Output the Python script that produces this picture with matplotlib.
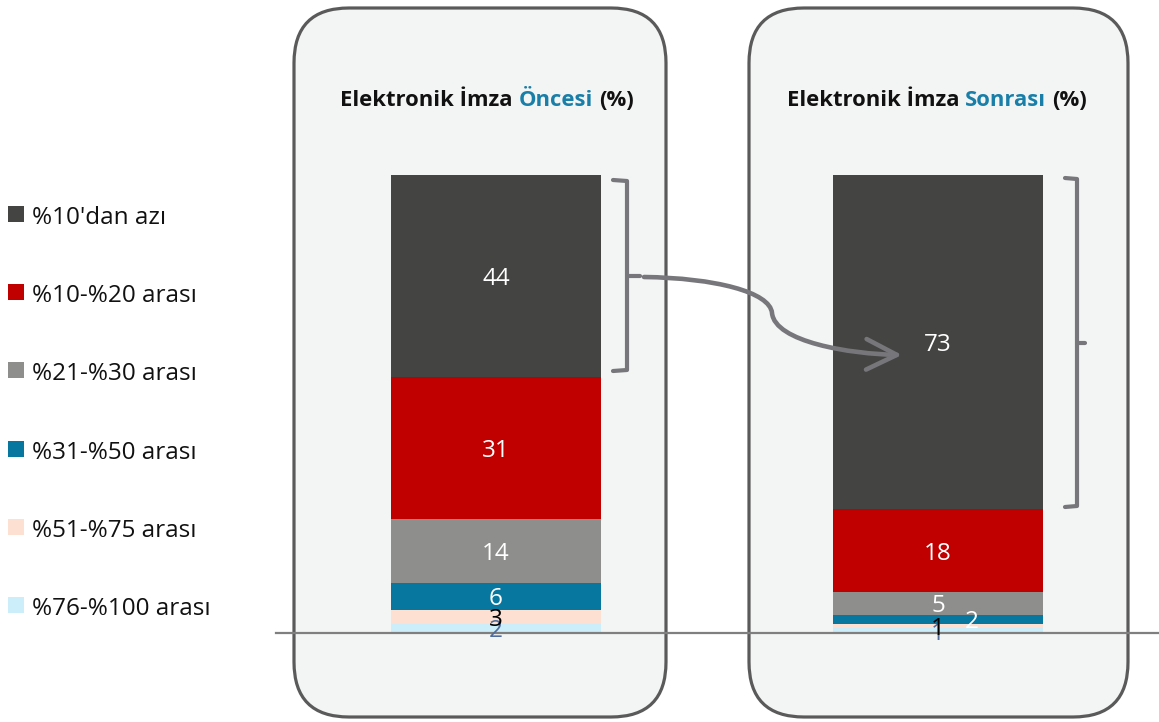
import matplotlib
matplotlib.use("Agg")
import matplotlib.pyplot as plt
from matplotlib.patches import FancyBboxPatch, FancyArrowPatch, Rectangle
from matplotlib.path import Path
import numpy as np

# ---------------- data ----------------
categories = ["Öncesi", "Sonrası"]
series_names = ["%10'dan azı", "%10-%20 arası", "%21-%30 arası",
                "%31-%50 arası", "%51-%75 arası", "%76-%100 arası"]
before = [44, 31, 14, 6, 3, 2]
after = [73, 18, 5, 2, 1, 1]
series_colors = ["#444442", "#C00000", "#8E8E8C", "#07779F", "#FDE0D2", "#CBEEFA"]
label_colors = ["white", "white", "white", "white", "black", "#4F6C9C"]

FONT = "Open Sans"
W, H = 1159, 722
fig = plt.figure(figsize=(W / 100, H / 100), dpi=100)
fig.patch.set_facecolor("white")

# background axes in pixel coordinates
bg = fig.add_axes([0, 0, 1, 1], zorder=1)
bg.set_xlim(0, W)
bg.set_ylim(H, 0)
bg.axis("off")

# panels
for x0, x1 in [(294, 666), (749, 1128)]:
    bg.add_patch(FancyBboxPatch((x0, 8), x1 - x0, 709,
                                boxstyle="round,pad=0,rounding_size=55",
                                facecolor="#F3F5F4", edgecolor="#5A5A5A",
                                linewidth=2.3, zorder=1))

# bar axes: x categories 0/1, y in percent
ax = fig.add_axes([0, 0, 1, 1], zorder=2)
ax.patch.set_alpha(0)
px_per_cat = 442.0
px_per_unit = 4.58
ax.set_xlim(-496 / px_per_cat, (W - 496) / px_per_cat)
ax.set_ylim(-89 / px_per_unit, (H - 89) / px_per_unit)
ax.axis("off")

# overlay axes (pixel coordinates) for brackets/arrow on top of bars
ov = fig.add_axes([0, 0, 1, 1], zorder=3)
ov.patch.set_alpha(0)
ov.set_xlim(0, W)
ov.set_ylim(H, 0)
ov.axis("off")

bar_w = 210 / px_per_cat
xs = np.arange(len(categories))
data = np.array([before, after])  # shape (cats, series)
bottoms = np.zeros(len(categories))
for i in range(len(series_names) - 1, -1, -1):
    vals = data[:, i]
    ax.bar(xs, vals, bottom=bottoms, width=bar_w, color=series_colors[i],
           edgecolor="none", zorder=2)
    for j, x in enumerate(xs):
        lx = x
        if j == 1 and i == 3:
            lx = x + 34 / px_per_cat
        ax.text(lx, bottoms[j] + vals[j] / 2, str(vals[j]), ha="center",
                va="center_baseline", fontsize=17.5, color=label_colors[i],
                family=FONT, zorder=4)
    bottoms = bottoms + vals

ax.axhline(0, xmin=276 / W, xmax=1.0, color="#7F7F7F", lw=1.6, zorder=3)

# legend
legend_y = [214, 292, 370, 449, 527, 605]
for name, c, y in zip(series_names, series_colors, legend_y):
    bg.add_patch(Rectangle((8, y - 8), 16, 16, facecolor=c, edgecolor="none", zorder=3))
    bg.text(32, y + 1, name, ha="left", va="center_baseline", fontsize=17.5,
            family=FONT, color="#111111", zorder=3)

# titles (multicolour)
fig.canvas.draw()
renderer = fig.canvas.get_renderer()
title_kw = dict(fontsize=15.8, fontweight="bold", family=FONT, va="center_baseline", zorder=3)


def measure(s):
    t = bg.text(0, 0, s, **title_kw)
    w = t.get_window_extent(renderer).width
    t.remove()
    return w


space_w = measure("a a") - measure("aa")


def multicolor_title(xc, y, parts):
    widths = []
    for s, c in parts:
        widths.append(space_w if s == " " else measure(s))
    x = xc - sum(widths) / 2
    for (s, c), w in zip(parts, widths):
        if s != " ":
            bg.text(x, y, s, color=c, ha="left", **title_kw)
        x += w


teal = "#1A7FA8"
multicolor_title(487, 98, [("Elektronik İmza", "#111111"), (" ", None),
                           ("Öncesi", teal), (" ", None), ("(%)", "#111111")])
multicolor_title(937, 98, [("Elektronik İmza", "#111111"), (" ", None),
                           ("Sonrası", teal), (" ", None), ("(%)", "#111111")])

# brackets
bcol = "#77777B"
blw = 3.0
ov.plot([613, 627, 627, 613], [180, 181, 370, 371], color=bcol, lw=blw,
        solid_joinstyle="round", solid_capstyle="round", zorder=4)
ov.plot([627, 640], [276, 276], color=bcol, lw=blw, solid_capstyle="round", zorder=4)
ov.plot([1065, 1077, 1077, 1065], [178, 179, 506, 507], color=bcol, lw=blw,
        solid_joinstyle="round", solid_capstyle="round", zorder=4)
ov.plot([1077, 1085], [343, 343], color=bcol, lw=blw, solid_capstyle="round", zorder=4)

# curved arrow
verts = [(644, 277), (715, 278), (770, 292), (772, 313),
         (775, 342), (850, 354), (902, 355)]
codes = [Path.MOVETO, Path.CURVE4, Path.CURVE4, Path.CURVE4,
         Path.CURVE4, Path.CURVE4, Path.CURVE4]
arrow = FancyArrowPatch(path=Path(verts, codes),
                        arrowstyle="->,head_length=1.1,head_width=0.55",
                        mutation_scale=20, color=bcol, lw=3.3,
                        shrinkA=0, shrinkB=0, zorder=5,
                        capstyle="round", joinstyle="round")
ov.add_patch(arrow)

fig.savefig("out.png", dpi=100)
